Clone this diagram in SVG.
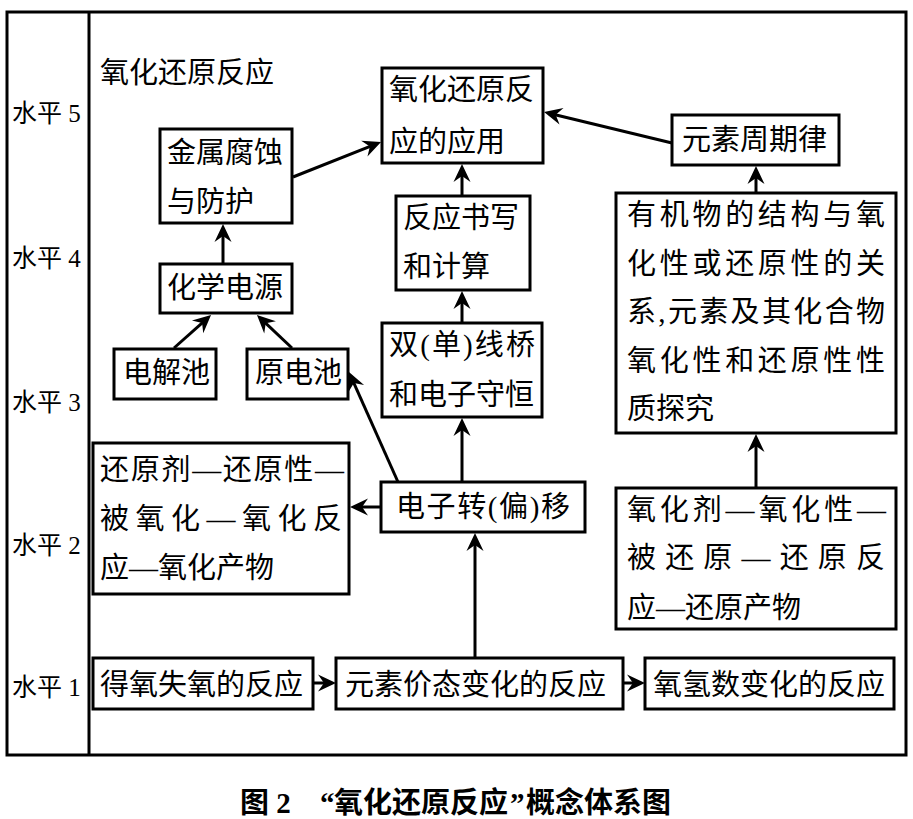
<svg xmlns="http://www.w3.org/2000/svg" width="913" height="819" viewBox="0 0 913 819">
<style>
.box{fill:#fff;stroke:#000;stroke-width:3}
.frame{fill:none;stroke:#000;stroke-width:3}
.t{font-family:'Liberation Serif','Noto Sans CJK SC',serif;font-size:29px;fill:#000;dominant-baseline:central}
.lv{font-family:'Liberation Serif','Noto Sans CJK SC',serif;font-size:25px;fill:#000;dominant-baseline:central}
.cap{font-family:'Liberation Serif','Noto Sans CJK SC',sans-serif;font-size:29px;font-weight:bold;fill:#000;dominant-baseline:central}
.c{fill:none;stroke:#000;stroke-width:3;marker-end:url(#ah)}
</style>
<defs>
<marker id="ah" markerUnits="userSpaceOnUse" viewBox="-20 -10 22 20" markerWidth="22" markerHeight="20" refX="-5" refY="0" orient="auto">
<path d="M0,0 L-18,-8.5 L-12,0 L-18,8.5 Z" fill="#000"/>
</marker>
</defs>
<rect width="913" height="819" fill="#fff"/>
<g id="frame">
<rect class="frame" x="7" y="12" width="899" height="743"/>
<line x1="89" y1="12" x2="89" y2="755" stroke="#000" stroke-width="3"/>
</g>
<g id="levels">
<text class="lv" x="12" y="113">水平 5</text>
<text class="lv" x="12" y="258">水平 4</text>
<text class="lv" x="12" y="402">水平 3</text>
<text class="lv" x="12" y="545">水平 2</text>
<text class="lv" x="12" y="687">水平 1</text>
</g>
<g id="title"><text class="t" x="100" y="73">氧化还原反应</text></g>
<g id="connectors">
<line class="c" x1="293" y1="177" x2="376.4" y2="143.8"/>
<line class="c" x1="223" y1="264" x2="223" y2="229"/>
<line class="c" x1="174" y1="348" x2="207.3" y2="318.3"/>
<line class="c" x1="292" y1="348" x2="260.6" y2="318.4"/>
<line class="c" x1="398" y1="482" x2="351" y2="376.6"/>
<line class="c" x1="381" y1="507" x2="355" y2="507"/>
<line class="c" x1="475" y1="658" x2="475" y2="538"/>
<line class="c" x1="462" y1="482" x2="462" y2="423"/>
<line class="c" x1="462" y1="323" x2="462" y2="296"/>
<line class="c" x1="462" y1="196" x2="462" y2="169"/>
<line class="c" x1="672" y1="143" x2="548.9" y2="113.2"/>
<line class="c" x1="756" y1="193" x2="756" y2="171"/>
<line class="c" x1="756" y1="488" x2="756" y2="439"/>
<line class="c" x1="313" y1="683" x2="331" y2="683"/>
<line class="c" x1="623" y1="683" x2="640" y2="683"/>
</g>
<g id="n-jinshu">
<rect class="box" x="160" y="129" width="132" height="94"/>
<text class="t" x="167" y="153">金属腐蚀</text>
<text class="t" x="167" y="202">与防护</text>
</g>
<g id="n-huaxuedianyuan">
<rect class="box" x="160" y="264" width="132" height="49"/>
<text class="t" x="167" y="288">化学电源</text>
</g>
<g id="n-dianjiechi">
<rect class="box" x="114" y="349" width="102" height="50"/>
<text class="t" x="123" y="373">电解池</text>
</g>
<g id="n-yuandianchi">
<rect class="box" x="247" y="349" width="101" height="50"/>
<text class="t" x="255" y="373">原电池</text>
</g>
<g id="n-yingyong">
<rect class="box" x="382" y="68" width="161" height="95"/>
<text class="t" x="389" y="90">氧化还原反</text>
<text class="t" x="389" y="142">应的应用</text>
</g>
<g id="n-shuxie">
<rect class="box" x="396" y="196" width="134" height="94"/>
<text class="t" x="403" y="218">反应书写</text>
<text class="t" x="403" y="267">和计算</text>
</g>
<g id="n-xianqiao">
<rect class="box" x="382" y="323" width="160" height="94"/>
<text class="t" x="389" y="345" textLength="146" lengthAdjust="spacing">双(单)线桥</text>
<text class="t" x="389" y="395">和电子守恒</text>
</g>
<g id="n-zhouqilv">
<rect class="box" x="672" y="115" width="167" height="50"/>
<text class="t" x="682" y="140">元素周期律</text>
</g>
<g id="n-youjiwu">
<rect class="box" x="616" y="193" width="280" height="240"/>
<text class="t" x="627" y="215" textLength="258" lengthAdjust="spacing">有机物的结构与氧</text>
<text class="t" x="627" y="263.5" textLength="258" lengthAdjust="spacing">化性或还原性的关</text>
<text class="t" x="627" y="312" textLength="258" lengthAdjust="spacing">系,元素及其化合物</text>
<text class="t" x="627" y="360.5" textLength="258" lengthAdjust="spacing">氧化性和还原性性</text>
<text class="t" x="627" y="409">质探究</text>
</g>
<g id="n-dianzizhuanyi">
<rect class="box" x="381" y="482" width="204" height="50"/>
<text class="t" x="396" y="507" textLength="174" lengthAdjust="spacing">电子转(偏)移</text>
</g>
<g id="n-huanyuanji">
<rect class="box" x="93" y="443" width="256" height="151"/>
<text class="t" x="100" y="470" textLength="244" lengthAdjust="spacing">还原剂—还原性—</text>
<text class="t" x="100" y="519" textLength="242" lengthAdjust="spacing">被氧化—氧化反</text>
<text class="t" x="100" y="568">应—氧化产物</text>
</g>
<g id="n-yanghuaji">
<rect class="box" x="616" y="488" width="280" height="141"/>
<text class="t" x="627" y="510" textLength="259" lengthAdjust="spacing">氧化剂—氧化性—</text>
<text class="t" x="627" y="558" textLength="258" lengthAdjust="spacing">被还原—还原反</text>
<text class="t" x="627" y="608">应—还原产物</text>
</g>
<g id="n-deyang">
<rect class="box" x="93" y="658" width="220" height="51"/>
<text class="t" x="100" y="685">得氧失氧的反应</text>
</g>
<g id="n-jiatai">
<rect class="box" x="336" y="658" width="287" height="51"/>
<text class="t" x="345" y="685">元素价态变化的反应</text>
</g>
<g id="n-yangqing">
<rect class="box" x="645" y="658" width="249" height="51"/>
<text class="t" x="653" y="685">氧氢数变化的反应</text>
</g>
<g id="caption">
<text class="cap" x="240" y="803">图 2</text>
<text class="cap" x="320" y="803">“</text>
<text class="cap" x="334" y="803">氧化还原反应</text>
<text class="cap" x="510" y="803">”</text>
<text class="cap" x="526" y="803">概念体系图</text>
</g>
</svg>
